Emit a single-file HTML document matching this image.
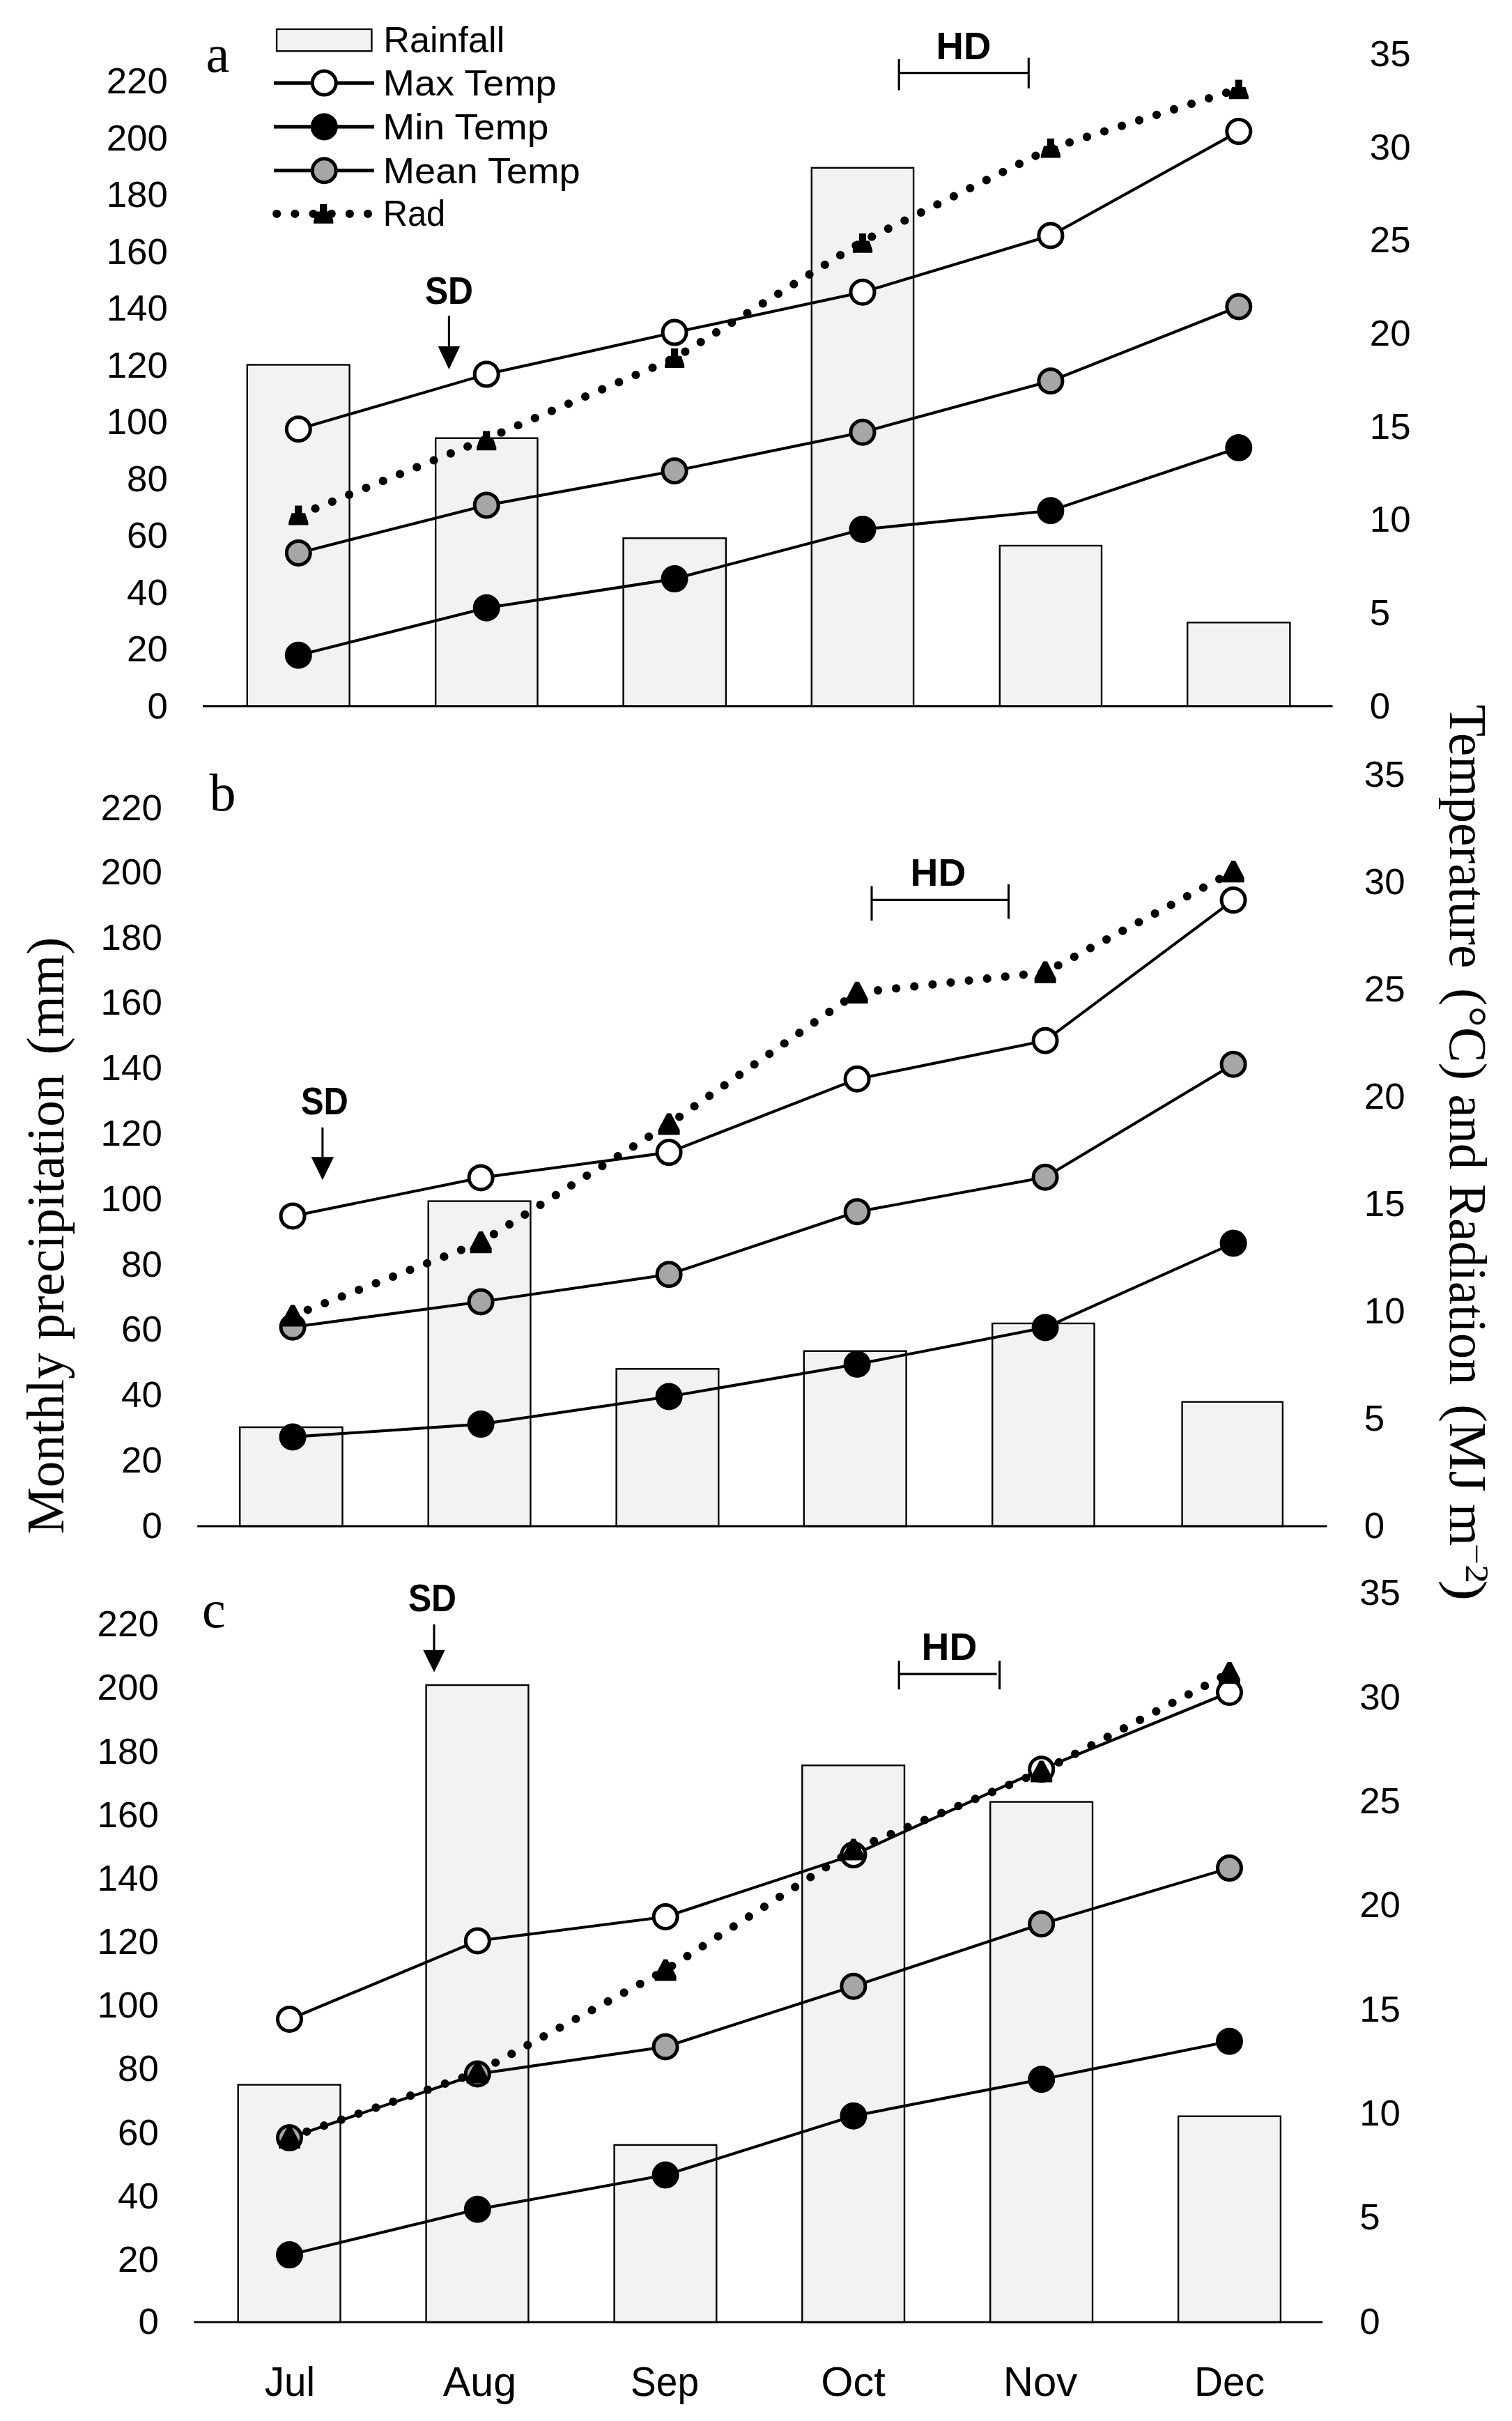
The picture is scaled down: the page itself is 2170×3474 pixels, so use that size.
<!DOCTYPE html>
<html lang="en"><head><meta charset="utf-8"><title>Monthly precipitation, temperature and radiation</title>
<style>html,body{margin:0;padding:0;background:#fff}svg{display:block}</style></head>
<body>
<svg width="2170" height="3474" viewBox="0 0 2170 3474">
<rect width="2170" height="3474" fill="#fff"/>
<rect x="354.8" y="523.5" width="146.8" height="490.0" fill="#f2f2f2" stroke="#000" stroke-width="2.4"/>
<rect x="625.2" y="628.7" width="146.3" height="384.8" fill="#f2f2f2" stroke="#000" stroke-width="2.4"/>
<rect x="894.6" y="772.3" width="147.3" height="241.2" fill="#f2f2f2" stroke="#000" stroke-width="2.4"/>
<rect x="1164.8" y="240.8" width="146.3" height="772.7" fill="#f2f2f2" stroke="#000" stroke-width="2.4"/>
<rect x="1434.8" y="783.0" width="146.2" height="230.5" fill="#f2f2f2" stroke="#000" stroke-width="2.4"/>
<rect x="1704.2" y="893.3" width="147.2" height="120.2" fill="#f2f2f2" stroke="#000" stroke-width="2.4"/>
<line x1="291.0" y1="1013.5" x2="1912.5" y2="1013.5" stroke="#000" stroke-width="2.8"/>
<polyline points="428.3,615.8 698.2,537.1 968.1,477.1 1238.0,419.3 1507.9,338.0 1777.8,188.6" fill="none" stroke="#000" stroke-width="4.1" stroke-linejoin="round"/>
<circle cx="428.3" cy="615.8" r="17.0" fill="#fff" stroke="#000" stroke-width="5.0"/>
<circle cx="698.2" cy="537.1" r="17.0" fill="#fff" stroke="#000" stroke-width="5.0"/>
<circle cx="968.1" cy="477.1" r="17.0" fill="#fff" stroke="#000" stroke-width="5.0"/>
<circle cx="1238.0" cy="419.3" r="17.0" fill="#fff" stroke="#000" stroke-width="5.0"/>
<circle cx="1507.9" cy="338.0" r="17.0" fill="#fff" stroke="#000" stroke-width="5.0"/>
<circle cx="1777.8" cy="188.6" r="17.0" fill="#fff" stroke="#000" stroke-width="5.0"/>
<polyline points="428.3,940.2 698.2,872.2 968.1,830.6 1238.0,759.6 1507.9,732.8 1777.8,642.5" fill="none" stroke="#000" stroke-width="4.1" stroke-linejoin="round"/>
<circle cx="428.3" cy="940.2" r="17.0" fill="#000" stroke="#000" stroke-width="5.0"/>
<circle cx="698.2" cy="872.2" r="17.0" fill="#000" stroke="#000" stroke-width="5.0"/>
<circle cx="968.1" cy="830.6" r="17.0" fill="#000" stroke="#000" stroke-width="5.0"/>
<circle cx="1238.0" cy="759.6" r="17.0" fill="#000" stroke="#000" stroke-width="5.0"/>
<circle cx="1507.9" cy="732.8" r="17.0" fill="#000" stroke="#000" stroke-width="5.0"/>
<circle cx="1777.8" cy="642.5" r="17.0" fill="#000" stroke="#000" stroke-width="5.0"/>
<polyline points="428.3,793.4 698.2,724.9 968.1,675.8 1238.0,620.2 1507.9,546.8 1777.8,440.0" fill="none" stroke="#000" stroke-width="4.1" stroke-linejoin="round"/>
<circle cx="428.3" cy="793.4" r="17.0" fill="#a6a6a6" stroke="#000" stroke-width="5.0"/>
<circle cx="698.2" cy="724.9" r="17.0" fill="#a6a6a6" stroke="#000" stroke-width="5.0"/>
<circle cx="968.1" cy="675.8" r="17.0" fill="#a6a6a6" stroke="#000" stroke-width="5.0"/>
<circle cx="1238.0" cy="620.2" r="17.0" fill="#a6a6a6" stroke="#000" stroke-width="5.0"/>
<circle cx="1507.9" cy="546.8" r="17.0" fill="#a6a6a6" stroke="#000" stroke-width="5.0"/>
<circle cx="1777.8" cy="440.0" r="17.0" fill="#a6a6a6" stroke="#000" stroke-width="5.0"/>
<polyline points="428.3,739.6 698.2,629.7 968.1,514.2 1238.0,346.3 1507.9,212.9 1777.8,127.5" fill="none" stroke="#000" stroke-width="12.2" stroke-linecap="round" stroke-linejoin="round" stroke-dasharray="0 26.22" stroke-dashoffset="0"/>
<path transform="translate(428.3,739.5)" d="M-5.1,-13.9 H5.1 V-3.3 H9.7 L14.1,9.7 V13.9 H-14.1 V9.7 L-9.7,-3.3 H-5.1 Z" fill="#000"/>
<path transform="translate(698.2,632.3)" d="M-5.1,-13.9 H5.1 V-3.3 H9.7 L14.1,9.7 V13.9 H-14.1 V9.7 L-9.7,-3.3 H-5.1 Z" fill="#000"/>
<path transform="translate(968.1,514.0)" d="M-5.1,-13.9 H5.1 V-3.3 H9.7 L14.1,9.7 V13.9 H-14.1 V9.7 L-9.7,-3.3 H-5.1 Z" fill="#000"/>
<path transform="translate(1238.0,348.8)" d="M-5.1,-13.9 H5.1 V-3.3 H9.7 L14.1,9.7 V13.9 H-14.1 V9.7 L-9.7,-3.3 H-5.1 Z" fill="#000"/>
<path transform="translate(1507.9,212.6)" d="M-5.1,-13.9 H5.1 V-3.3 H9.7 L14.1,9.7 V13.9 H-14.1 V9.7 L-9.7,-3.3 H-5.1 Z" fill="#000"/>
<path transform="translate(1777.8,128.4)" d="M-5.1,-13.9 H5.1 V-3.3 H9.7 L14.1,9.7 V13.9 H-14.1 V9.7 L-9.7,-3.3 H-5.1 Z" fill="#000"/>
<text x="211.5" y="1030.5" font-size="51" font-family="Liberation Sans, DejaVu Sans, sans-serif" textLength="29.4" lengthAdjust="spacingAndGlyphs" >0</text>
<text x="182.1" y="949.0" font-size="51" font-family="Liberation Sans, DejaVu Sans, sans-serif" textLength="58.8" lengthAdjust="spacingAndGlyphs" >20</text>
<text x="182.1" y="867.6" font-size="51" font-family="Liberation Sans, DejaVu Sans, sans-serif" textLength="58.8" lengthAdjust="spacingAndGlyphs" >40</text>
<text x="182.1" y="786.1" font-size="51" font-family="Liberation Sans, DejaVu Sans, sans-serif" textLength="58.8" lengthAdjust="spacingAndGlyphs" >60</text>
<text x="182.1" y="704.6" font-size="51" font-family="Liberation Sans, DejaVu Sans, sans-serif" textLength="58.8" lengthAdjust="spacingAndGlyphs" >80</text>
<text x="152.7" y="623.1" font-size="51" font-family="Liberation Sans, DejaVu Sans, sans-serif" textLength="88.2" lengthAdjust="spacingAndGlyphs" >100</text>
<text x="152.7" y="541.7" font-size="51" font-family="Liberation Sans, DejaVu Sans, sans-serif" textLength="88.2" lengthAdjust="spacingAndGlyphs" >120</text>
<text x="152.7" y="460.2" font-size="51" font-family="Liberation Sans, DejaVu Sans, sans-serif" textLength="88.2" lengthAdjust="spacingAndGlyphs" >140</text>
<text x="152.7" y="378.7" font-size="51" font-family="Liberation Sans, DejaVu Sans, sans-serif" textLength="88.2" lengthAdjust="spacingAndGlyphs" >160</text>
<text x="152.7" y="297.3" font-size="51" font-family="Liberation Sans, DejaVu Sans, sans-serif" textLength="88.2" lengthAdjust="spacingAndGlyphs" >180</text>
<text x="152.7" y="215.8" font-size="51" font-family="Liberation Sans, DejaVu Sans, sans-serif" textLength="88.2" lengthAdjust="spacingAndGlyphs" >200</text>
<text x="152.7" y="134.3" font-size="51" font-family="Liberation Sans, DejaVu Sans, sans-serif" textLength="88.2" lengthAdjust="spacingAndGlyphs" >220</text>
<text x="1965.8" y="1030.5" font-size="51" font-family="Liberation Sans, DejaVu Sans, sans-serif" textLength="29.4" lengthAdjust="spacingAndGlyphs" >0</text>
<text x="1965.8" y="896.9" font-size="51" font-family="Liberation Sans, DejaVu Sans, sans-serif" textLength="29.4" lengthAdjust="spacingAndGlyphs" >5</text>
<text x="1965.8" y="763.2" font-size="51" font-family="Liberation Sans, DejaVu Sans, sans-serif" textLength="58.8" lengthAdjust="spacingAndGlyphs" >10</text>
<text x="1965.8" y="629.6" font-size="51" font-family="Liberation Sans, DejaVu Sans, sans-serif" textLength="58.8" lengthAdjust="spacingAndGlyphs" >15</text>
<text x="1965.8" y="495.9" font-size="51" font-family="Liberation Sans, DejaVu Sans, sans-serif" textLength="58.8" lengthAdjust="spacingAndGlyphs" >20</text>
<text x="1965.8" y="362.3" font-size="51" font-family="Liberation Sans, DejaVu Sans, sans-serif" textLength="58.8" lengthAdjust="spacingAndGlyphs" >25</text>
<text x="1965.8" y="228.7" font-size="51" font-family="Liberation Sans, DejaVu Sans, sans-serif" textLength="58.8" lengthAdjust="spacingAndGlyphs" >30</text>
<text x="1965.8" y="95.0" font-size="51" font-family="Liberation Sans, DejaVu Sans, sans-serif" textLength="58.8" lengthAdjust="spacingAndGlyphs" >35</text>
<rect x="344.2" y="2048.0" width="147.3" height="142.0" fill="#f2f2f2" stroke="#000" stroke-width="2.4"/>
<rect x="614.7" y="1723.6" width="146.7" height="466.4" fill="#f2f2f2" stroke="#000" stroke-width="2.4"/>
<rect x="884.6" y="1964.3" width="146.7" height="225.7" fill="#f2f2f2" stroke="#000" stroke-width="2.4"/>
<rect x="1153.8" y="1938.7" width="146.8" height="251.3" fill="#f2f2f2" stroke="#000" stroke-width="2.4"/>
<rect x="1424.2" y="1899.0" width="146.3" height="291.0" fill="#f2f2f2" stroke="#000" stroke-width="2.4"/>
<rect x="1696.6" y="2011.6" width="144.3" height="178.4" fill="#f2f2f2" stroke="#000" stroke-width="2.4"/>
<line x1="283.2" y1="2190.0" x2="1904.6" y2="2190.0" stroke="#000" stroke-width="2.8"/>
<polyline points="420.1,1744.9 690.1,1689.9 960.1,1653.6 1230.1,1548.3 1500.1,1493.3 1770.1,1291.6" fill="none" stroke="#000" stroke-width="4.1" stroke-linejoin="round"/>
<circle cx="420.1" cy="1744.9" r="17.0" fill="#fff" stroke="#000" stroke-width="5.0"/>
<circle cx="690.1" cy="1689.9" r="17.0" fill="#fff" stroke="#000" stroke-width="5.0"/>
<circle cx="960.1" cy="1653.6" r="17.0" fill="#fff" stroke="#000" stroke-width="5.0"/>
<circle cx="1230.1" cy="1548.3" r="17.0" fill="#fff" stroke="#000" stroke-width="5.0"/>
<circle cx="1500.1" cy="1493.3" r="17.0" fill="#fff" stroke="#000" stroke-width="5.0"/>
<circle cx="1770.1" cy="1291.6" r="17.0" fill="#fff" stroke="#000" stroke-width="5.0"/>
<polyline points="420.1,2061.9 690.1,2043.6 960.1,2004.0 1230.1,1957.5 1500.1,1905.0 1770.1,1784.0" fill="none" stroke="#000" stroke-width="4.1" stroke-linejoin="round"/>
<circle cx="420.1" cy="2061.9" r="17.0" fill="#000" stroke="#000" stroke-width="5.0"/>
<circle cx="690.1" cy="2043.6" r="17.0" fill="#000" stroke="#000" stroke-width="5.0"/>
<circle cx="960.1" cy="2004.0" r="17.0" fill="#000" stroke="#000" stroke-width="5.0"/>
<circle cx="1230.1" cy="1957.5" r="17.0" fill="#000" stroke="#000" stroke-width="5.0"/>
<circle cx="1500.1" cy="1905.0" r="17.0" fill="#000" stroke="#000" stroke-width="5.0"/>
<circle cx="1770.1" cy="1784.0" r="17.0" fill="#000" stroke="#000" stroke-width="5.0"/>
<polyline points="420.1,1904.2 690.1,1868.0 960.1,1828.7 1230.1,1738.8 1500.1,1689.2 1770.1,1527.2" fill="none" stroke="#000" stroke-width="4.1" stroke-linejoin="round"/>
<circle cx="420.1" cy="1904.2" r="17.0" fill="#a6a6a6" stroke="#000" stroke-width="5.0"/>
<circle cx="690.1" cy="1868.0" r="17.0" fill="#a6a6a6" stroke="#000" stroke-width="5.0"/>
<circle cx="960.1" cy="1828.7" r="17.0" fill="#a6a6a6" stroke="#000" stroke-width="5.0"/>
<circle cx="1230.1" cy="1738.8" r="17.0" fill="#a6a6a6" stroke="#000" stroke-width="5.0"/>
<circle cx="1500.1" cy="1689.2" r="17.0" fill="#a6a6a6" stroke="#000" stroke-width="5.0"/>
<circle cx="1770.1" cy="1527.2" r="17.0" fill="#a6a6a6" stroke="#000" stroke-width="5.0"/>
<polyline points="420.1,1888.0 690.1,1782.6 960.1,1613.0 1230.1,1424.3 1500.1,1395.2 1770.1,1250.6" fill="none" stroke="#000" stroke-width="12.2" stroke-linecap="round" stroke-linejoin="round" stroke-dasharray="0 26.25" stroke-dashoffset="3.0"/>
<path transform="translate(420.1,1888.0)" d="M-2.8,-15.6 H2.8 L15.5,8.6 V15.6 H-15.5 V8.6 Z" fill="#000"/>
<path transform="translate(690.1,1782.6)" d="M-2.8,-15.6 H2.8 L15.5,8.6 V15.6 H-15.5 V8.6 Z" fill="#000"/>
<path transform="translate(960.1,1613.0)" d="M-2.8,-15.6 H2.8 L15.5,8.6 V15.6 H-15.5 V8.6 Z" fill="#000"/>
<path transform="translate(1230.1,1424.3)" d="M-2.8,-15.6 H2.8 L15.5,8.6 V15.6 H-15.5 V8.6 Z" fill="#000"/>
<path transform="translate(1500.1,1395.2)" d="M-2.8,-15.6 H2.8 L15.5,8.6 V15.6 H-15.5 V8.6 Z" fill="#000"/>
<path transform="translate(1770.1,1250.6)" d="M-2.8,-15.6 H2.8 L15.5,8.6 V15.6 H-15.5 V8.6 Z" fill="#000"/>
<text x="203.4" y="2206.7" font-size="51" font-family="Liberation Sans, DejaVu Sans, sans-serif" textLength="29.4" lengthAdjust="spacingAndGlyphs" >0</text>
<text x="174.0" y="2112.9" font-size="51" font-family="Liberation Sans, DejaVu Sans, sans-serif" textLength="58.8" lengthAdjust="spacingAndGlyphs" >20</text>
<text x="174.0" y="2019.1" font-size="51" font-family="Liberation Sans, DejaVu Sans, sans-serif" textLength="58.8" lengthAdjust="spacingAndGlyphs" >40</text>
<text x="174.0" y="1925.3" font-size="51" font-family="Liberation Sans, DejaVu Sans, sans-serif" textLength="58.8" lengthAdjust="spacingAndGlyphs" >60</text>
<text x="174.0" y="1831.5" font-size="51" font-family="Liberation Sans, DejaVu Sans, sans-serif" textLength="58.8" lengthAdjust="spacingAndGlyphs" >80</text>
<text x="144.6" y="1737.8" font-size="51" font-family="Liberation Sans, DejaVu Sans, sans-serif" textLength="88.2" lengthAdjust="spacingAndGlyphs" >100</text>
<text x="144.6" y="1644.0" font-size="51" font-family="Liberation Sans, DejaVu Sans, sans-serif" textLength="88.2" lengthAdjust="spacingAndGlyphs" >120</text>
<text x="144.6" y="1550.2" font-size="51" font-family="Liberation Sans, DejaVu Sans, sans-serif" textLength="88.2" lengthAdjust="spacingAndGlyphs" >140</text>
<text x="144.6" y="1456.4" font-size="51" font-family="Liberation Sans, DejaVu Sans, sans-serif" textLength="88.2" lengthAdjust="spacingAndGlyphs" >160</text>
<text x="144.6" y="1362.6" font-size="51" font-family="Liberation Sans, DejaVu Sans, sans-serif" textLength="88.2" lengthAdjust="spacingAndGlyphs" >180</text>
<text x="144.6" y="1268.8" font-size="51" font-family="Liberation Sans, DejaVu Sans, sans-serif" textLength="88.2" lengthAdjust="spacingAndGlyphs" >200</text>
<text x="144.6" y="1177.1" font-size="51" font-family="Liberation Sans, DejaVu Sans, sans-serif" textLength="88.2" lengthAdjust="spacingAndGlyphs" >220</text>
<text x="1957.8" y="2206.6" font-size="51" font-family="Liberation Sans, DejaVu Sans, sans-serif" textLength="29.4" lengthAdjust="spacingAndGlyphs" >0</text>
<text x="1957.8" y="2052.7" font-size="51" font-family="Liberation Sans, DejaVu Sans, sans-serif" textLength="29.4" lengthAdjust="spacingAndGlyphs" >5</text>
<text x="1957.8" y="1898.8" font-size="51" font-family="Liberation Sans, DejaVu Sans, sans-serif" textLength="58.8" lengthAdjust="spacingAndGlyphs" >10</text>
<text x="1957.8" y="1744.9" font-size="51" font-family="Liberation Sans, DejaVu Sans, sans-serif" textLength="58.8" lengthAdjust="spacingAndGlyphs" >15</text>
<text x="1957.8" y="1591.0" font-size="51" font-family="Liberation Sans, DejaVu Sans, sans-serif" textLength="58.8" lengthAdjust="spacingAndGlyphs" >20</text>
<text x="1957.8" y="1437.1" font-size="51" font-family="Liberation Sans, DejaVu Sans, sans-serif" textLength="58.8" lengthAdjust="spacingAndGlyphs" >25</text>
<text x="1957.8" y="1283.2" font-size="51" font-family="Liberation Sans, DejaVu Sans, sans-serif" textLength="58.8" lengthAdjust="spacingAndGlyphs" >30</text>
<text x="1957.8" y="1129.3" font-size="51" font-family="Liberation Sans, DejaVu Sans, sans-serif" textLength="58.8" lengthAdjust="spacingAndGlyphs" >35</text>
<rect x="341.7" y="2991.5" width="146.8" height="340.7" fill="#f2f2f2" stroke="#000" stroke-width="2.4"/>
<rect x="611.6" y="2418.0" width="146.8" height="914.2" fill="#f2f2f2" stroke="#000" stroke-width="2.4"/>
<rect x="881.6" y="3077.9" width="146.7" height="254.3" fill="#f2f2f2" stroke="#000" stroke-width="2.4"/>
<rect x="1151.3" y="2533.2" width="146.7" height="799.0" fill="#f2f2f2" stroke="#000" stroke-width="2.4"/>
<rect x="1421.2" y="2585.6" width="146.8" height="746.6" fill="#f2f2f2" stroke="#000" stroke-width="2.4"/>
<rect x="1691.1" y="3036.7" width="146.8" height="295.5" fill="#f2f2f2" stroke="#000" stroke-width="2.4"/>
<line x1="278.3" y1="3332.2" x2="1898.2" y2="3332.2" stroke="#000" stroke-width="2.8"/>
<polyline points="415.5,2897.5 685.3,2785.0 955.1,2750.5 1224.9,2661.6 1494.7,2538.8 1764.5,2428.5" fill="none" stroke="#000" stroke-width="4.1" stroke-linejoin="round"/>
<circle cx="415.5" cy="2897.5" r="17.0" fill="#fff" stroke="#000" stroke-width="5.0"/>
<circle cx="685.3" cy="2785.0" r="17.0" fill="#fff" stroke="#000" stroke-width="5.0"/>
<circle cx="955.1" cy="2750.5" r="17.0" fill="#fff" stroke="#000" stroke-width="5.0"/>
<circle cx="1224.9" cy="2661.6" r="17.0" fill="#fff" stroke="#000" stroke-width="5.0"/>
<circle cx="1494.7" cy="2538.8" r="17.0" fill="#fff" stroke="#000" stroke-width="5.0"/>
<circle cx="1764.5" cy="2428.5" r="17.0" fill="#fff" stroke="#000" stroke-width="5.0"/>
<polyline points="415.5,3235.6 685.3,3170.3 955.1,3121.0 1224.9,3036.2 1494.7,2983.8 1764.5,2929.3" fill="none" stroke="#000" stroke-width="4.1" stroke-linejoin="round"/>
<circle cx="415.5" cy="3235.6" r="17.0" fill="#000" stroke="#000" stroke-width="5.0"/>
<circle cx="685.3" cy="3170.3" r="17.0" fill="#000" stroke="#000" stroke-width="5.0"/>
<circle cx="955.1" cy="3121.0" r="17.0" fill="#000" stroke="#000" stroke-width="5.0"/>
<circle cx="1224.9" cy="3036.2" r="17.0" fill="#000" stroke="#000" stroke-width="5.0"/>
<circle cx="1494.7" cy="2983.8" r="17.0" fill="#000" stroke="#000" stroke-width="5.0"/>
<circle cx="1764.5" cy="2929.3" r="17.0" fill="#000" stroke="#000" stroke-width="5.0"/>
<polyline points="415.5,3067.6 685.3,2976.0 955.1,2937.0 1224.9,2850.2 1494.7,2760.8 1764.5,2680.6" fill="none" stroke="#000" stroke-width="4.1" stroke-linejoin="round"/>
<circle cx="415.5" cy="3067.6" r="17.0" fill="#a6a6a6" stroke="#000" stroke-width="5.0"/>
<circle cx="685.3" cy="2976.0" r="17.0" fill="#a6a6a6" stroke="#000" stroke-width="5.0"/>
<circle cx="955.1" cy="2937.0" r="17.0" fill="#a6a6a6" stroke="#000" stroke-width="5.0"/>
<circle cx="1224.9" cy="2850.2" r="17.0" fill="#a6a6a6" stroke="#000" stroke-width="5.0"/>
<circle cx="1494.7" cy="2760.8" r="17.0" fill="#a6a6a6" stroke="#000" stroke-width="5.0"/>
<circle cx="1764.5" cy="2680.6" r="17.0" fill="#a6a6a6" stroke="#000" stroke-width="5.0"/>
<polyline points="415.5,3067.4 685.3,2973.8 955.1,2827.0 1224.9,2654.0 1494.7,2542.0 1764.5,2400.6" fill="none" stroke="#000" stroke-width="12.2" stroke-linecap="round" stroke-linejoin="round" stroke-dasharray="0 26.25" stroke-dashoffset="0"/>
<path transform="translate(415.5,3067.4)" d="M-2.8,-15.6 H2.8 L15.5,8.6 V15.6 H-15.5 V8.6 Z" fill="#000"/>
<path transform="translate(685.3,2973.8)" d="M-2.8,-15.6 H2.8 L15.5,8.6 V15.6 H-15.5 V8.6 Z" fill="#000"/>
<path transform="translate(955.1,2827.0)" d="M-2.8,-15.6 H2.8 L15.5,8.6 V15.6 H-15.5 V8.6 Z" fill="#000"/>
<path transform="translate(1224.9,2654.0)" d="M-2.8,-15.6 H2.8 L15.5,8.6 V15.6 H-15.5 V8.6 Z" fill="#000"/>
<path transform="translate(1494.7,2542.0)" d="M-2.8,-15.6 H2.8 L15.5,8.6 V15.6 H-15.5 V8.6 Z" fill="#000"/>
<path transform="translate(1764.5,2400.6)" d="M-2.8,-15.6 H2.8 L15.5,8.6 V15.6 H-15.5 V8.6 Z" fill="#000"/>
<text x="198.4" y="3349.0" font-size="51" font-family="Liberation Sans, DejaVu Sans, sans-serif" textLength="29.4" lengthAdjust="spacingAndGlyphs" >0</text>
<text x="169.0" y="3259.8" font-size="51" font-family="Liberation Sans, DejaVu Sans, sans-serif" textLength="58.8" lengthAdjust="spacingAndGlyphs" >20</text>
<text x="169.0" y="3168.7" font-size="51" font-family="Liberation Sans, DejaVu Sans, sans-serif" textLength="58.8" lengthAdjust="spacingAndGlyphs" >40</text>
<text x="169.0" y="3077.5" font-size="51" font-family="Liberation Sans, DejaVu Sans, sans-serif" textLength="58.8" lengthAdjust="spacingAndGlyphs" >60</text>
<text x="169.0" y="2986.3" font-size="51" font-family="Liberation Sans, DejaVu Sans, sans-serif" textLength="58.8" lengthAdjust="spacingAndGlyphs" >80</text>
<text x="139.6" y="2895.2" font-size="51" font-family="Liberation Sans, DejaVu Sans, sans-serif" textLength="88.2" lengthAdjust="spacingAndGlyphs" >100</text>
<text x="139.6" y="2804.0" font-size="51" font-family="Liberation Sans, DejaVu Sans, sans-serif" textLength="88.2" lengthAdjust="spacingAndGlyphs" >120</text>
<text x="139.6" y="2712.8" font-size="51" font-family="Liberation Sans, DejaVu Sans, sans-serif" textLength="88.2" lengthAdjust="spacingAndGlyphs" >140</text>
<text x="139.6" y="2621.6" font-size="51" font-family="Liberation Sans, DejaVu Sans, sans-serif" textLength="88.2" lengthAdjust="spacingAndGlyphs" >160</text>
<text x="139.6" y="2530.5" font-size="51" font-family="Liberation Sans, DejaVu Sans, sans-serif" textLength="88.2" lengthAdjust="spacingAndGlyphs" >180</text>
<text x="139.6" y="2439.3" font-size="51" font-family="Liberation Sans, DejaVu Sans, sans-serif" textLength="88.2" lengthAdjust="spacingAndGlyphs" >200</text>
<text x="139.6" y="2348.1" font-size="51" font-family="Liberation Sans, DejaVu Sans, sans-serif" textLength="88.2" lengthAdjust="spacingAndGlyphs" >220</text>
<text x="1951.2" y="3348.5" font-size="51" font-family="Liberation Sans, DejaVu Sans, sans-serif" textLength="29.4" lengthAdjust="spacingAndGlyphs" >0</text>
<text x="1951.2" y="3199.2" font-size="51" font-family="Liberation Sans, DejaVu Sans, sans-serif" textLength="29.4" lengthAdjust="spacingAndGlyphs" >5</text>
<text x="1951.2" y="3049.9" font-size="51" font-family="Liberation Sans, DejaVu Sans, sans-serif" textLength="58.8" lengthAdjust="spacingAndGlyphs" >10</text>
<text x="1951.2" y="2900.6" font-size="51" font-family="Liberation Sans, DejaVu Sans, sans-serif" textLength="58.8" lengthAdjust="spacingAndGlyphs" >15</text>
<text x="1951.2" y="2751.3" font-size="51" font-family="Liberation Sans, DejaVu Sans, sans-serif" textLength="58.8" lengthAdjust="spacingAndGlyphs" >20</text>
<text x="1951.2" y="2602.0" font-size="51" font-family="Liberation Sans, DejaVu Sans, sans-serif" textLength="58.8" lengthAdjust="spacingAndGlyphs" >25</text>
<text x="1951.2" y="2452.7" font-size="51" font-family="Liberation Sans, DejaVu Sans, sans-serif" textLength="58.8" lengthAdjust="spacingAndGlyphs" >30</text>
<text x="1951.2" y="2303.4" font-size="51" font-family="Liberation Sans, DejaVu Sans, sans-serif" textLength="58.8" lengthAdjust="spacingAndGlyphs" >35</text>
<text x="379.8" y="3438.4" font-size="60" font-family="Liberation Sans, DejaVu Sans, sans-serif" textLength="72.4" lengthAdjust="spacingAndGlyphs" >Jul</text>
<text x="635.7" y="3438.4" font-size="60" font-family="Liberation Sans, DejaVu Sans, sans-serif" textLength="105.4" lengthAdjust="spacingAndGlyphs" >Aug</text>
<text x="905.1" y="3438.4" font-size="60" font-family="Liberation Sans, DejaVu Sans, sans-serif" textLength="97.9" lengthAdjust="spacingAndGlyphs" >Sep</text>
<text x="1178.2" y="3438.4" font-size="60" font-family="Liberation Sans, DejaVu Sans, sans-serif" textLength="92.6" lengthAdjust="spacingAndGlyphs" >Oct</text>
<text x="1439.8" y="3438.4" font-size="60" font-family="Liberation Sans, DejaVu Sans, sans-serif" textLength="106.4" lengthAdjust="spacingAndGlyphs" >Nov</text>
<text x="1714.0" y="3438.4" font-size="60" font-family="Liberation Sans, DejaVu Sans, sans-serif" textLength="101.1" lengthAdjust="spacingAndGlyphs" >Dec</text>
<rect x="397.1" y="41.9" width="136.3" height="31.4" fill="#f2f2f2" stroke="#000" stroke-width="2.4"/>
<line x1="393" y1="119.1" x2="537" y2="119.1" stroke="#000" stroke-width="5.2"/>
<circle cx="465.25" cy="119.1" r="17.0" fill="#fff" stroke="#000" stroke-width="5.0"/>
<line x1="393" y1="181.9" x2="537" y2="181.9" stroke="#000" stroke-width="5.2"/>
<circle cx="465.25" cy="181.9" r="17.0" fill="#000" stroke="#000" stroke-width="5.0"/>
<line x1="393" y1="244.7" x2="537" y2="244.7" stroke="#000" stroke-width="5.2"/>
<circle cx="465.25" cy="244.7" r="17.0" fill="#a6a6a6" stroke="#000" stroke-width="5.0"/>
<line x1="397.2" y1="306.8" x2="530" y2="306.8" stroke="#000" stroke-width="12.2" stroke-linecap="round" stroke-dasharray="0 26.17"/>
<path transform="translate(464.2,306.8)" d="M-5.1,-13.9 H5.1 V-3.3 H9.7 L14.1,9.7 V13.9 H-14.1 V9.7 L-9.7,-3.3 H-5.1 Z" fill="#000"/>
<text x="550.2" y="74.6" font-size="52" font-family="Liberation Sans, DejaVu Sans, sans-serif" textLength="174.1" lengthAdjust="spacingAndGlyphs" >Rainfall</text>
<text x="549.8" y="137.0" font-size="52" font-family="Liberation Sans, DejaVu Sans, sans-serif" textLength="248.9" lengthAdjust="spacingAndGlyphs" >Max Temp</text>
<text x="549.2" y="200.3" font-size="52" font-family="Liberation Sans, DejaVu Sans, sans-serif" textLength="238.2" lengthAdjust="spacingAndGlyphs" >Min Temp</text>
<text x="549.8" y="263.1" font-size="52" font-family="Liberation Sans, DejaVu Sans, sans-serif" textLength="283.0" lengthAdjust="spacingAndGlyphs" >Mean Temp</text>
<text x="549.7" y="323.6" font-size="52" font-family="Liberation Sans, DejaVu Sans, sans-serif" textLength="89.4" lengthAdjust="spacingAndGlyphs" >Rad</text>
<text x="295.5" y="102.8" font-size="76" font-family="Liberation Serif, DejaVu Serif, serif" >a</text>
<text x="300.5" y="1163.0" font-size="76" font-family="Liberation Serif, DejaVu Serif, serif" >b</text>
<text x="290.0" y="2334.5" font-size="76" font-family="Liberation Serif, DejaVu Serif, serif" >c</text>
<text x="609.9" y="435.9" font-size="56" font-family="Liberation Sans, DejaVu Sans, sans-serif" font-weight="bold" textLength="69.2" lengthAdjust="spacingAndGlyphs" >SD</text>
<line x1="644.4" y1="453" x2="644.4" y2="499.1" stroke="#000" stroke-width="3.1"/>
<polygon points="628.6999999999999,497.1 660.1,497.1 644.4,530" fill="#000"/>
<text x="1343.6" y="85.1" font-size="56" font-family="Liberation Sans, DejaVu Sans, sans-serif" font-weight="bold" textLength="78.8" lengthAdjust="spacingAndGlyphs" >HD</text>
<path d="M1290.2,85.1 V129.5 M1476.3,82.7 V126.7 M1290.2,104.6 H1476.3" stroke="#000" stroke-width="3.1" fill="none"/>
<text x="432.0" y="1599.0" font-size="56" font-family="Liberation Sans, DejaVu Sans, sans-serif" font-weight="bold" textLength="67.9" lengthAdjust="spacingAndGlyphs" >SD</text>
<line x1="462.9" y1="1617.8" x2="462.9" y2="1662.3" stroke="#000" stroke-width="3.1"/>
<polygon points="446.7,1660.3 479.09999999999997,1660.3 462.9,1693.2" fill="#000"/>
<text x="1306.6" y="1270.5" font-size="56" font-family="Liberation Sans, DejaVu Sans, sans-serif" font-weight="bold" textLength="79.8" lengthAdjust="spacingAndGlyphs" >HD</text>
<path d="M1251,1271.5 V1321 M1447.5,1269 V1318.6 M1251,1291.4 H1447.5" stroke="#000" stroke-width="3.1" fill="none"/>
<text x="585.9" y="2312.0" font-size="56" font-family="Liberation Sans, DejaVu Sans, sans-serif" font-weight="bold" textLength="69.2" lengthAdjust="spacingAndGlyphs" >SD</text>
<line x1="623" y1="2330.7" x2="623" y2="2369.7" stroke="#000" stroke-width="3.1"/>
<polygon points="607.3,2367.7 638.7,2367.7 623,2399.6" fill="#000"/>
<text x="1322.6" y="2382.0" font-size="56" font-family="Liberation Sans, DejaVu Sans, sans-serif" font-weight="bold" textLength="79.8" lengthAdjust="spacingAndGlyphs" >HD</text>
<path d="M1290.2,2383 V2424.2 M1434.6,2383 V2424.2 M1290.2,2402.1 H1430.6" stroke="#000" stroke-width="3.1" fill="none"/>
<text transform="translate(91.4,2201.2) rotate(-90)" font-size="76" font-family="Liberation Serif, DejaVu Serif, serif" textLength="659.9" lengthAdjust="spacingAndGlyphs">Monthly precipitation</text>
<text transform="translate(91.4,1513.6) rotate(-90)" font-size="76" font-family="Liberation Serif, DejaVu Serif, serif" textLength="169.0" lengthAdjust="spacingAndGlyphs">(mm)</text>
<text transform="translate(2080.6,1011.2) rotate(90)" font-size="76" font-family="Liberation Serif, DejaVu Serif, serif" textLength="378.0" lengthAdjust="spacingAndGlyphs">Temperature</text>
<text transform="translate(2080.6,1418.0) rotate(90)" font-size="76" font-family="Liberation Serif, DejaVu Serif, serif" textLength="132.1" lengthAdjust="spacingAndGlyphs">(°C)</text>
<text transform="translate(2080.6,1570.5) rotate(90)" font-size="76" font-family="Liberation Serif, DejaVu Serif, serif" textLength="107.6" lengthAdjust="spacingAndGlyphs">and</text>
<text transform="translate(2080.6,1698.9) rotate(90)" font-size="76" font-family="Liberation Serif, DejaVu Serif, serif" textLength="288.4" lengthAdjust="spacingAndGlyphs">Radiation</text>
<text transform="translate(2080.6,2015.1) rotate(90)" font-size="76" font-family="Liberation Serif, DejaVu Serif, serif" textLength="125.4" lengthAdjust="spacingAndGlyphs">(MJ</text>
<text transform="translate(2080.6,2157.4) rotate(90)" font-size="76" font-family="Liberation Serif, DejaVu Serif, serif" textLength="61.0" lengthAdjust="spacingAndGlyphs">m</text>
<text transform="translate(2103.9,2215.2) rotate(90)" font-size="46" font-family="Liberation Serif, DejaVu Serif, serif" textLength="56.7" lengthAdjust="spacingAndGlyphs">−2</text>
<text transform="translate(2080.6,2267.3) rotate(90)" font-size="76" font-family="Liberation Serif, DejaVu Serif, serif" textLength="30.0" lengthAdjust="spacingAndGlyphs">)</text>
</svg>
</body></html>
